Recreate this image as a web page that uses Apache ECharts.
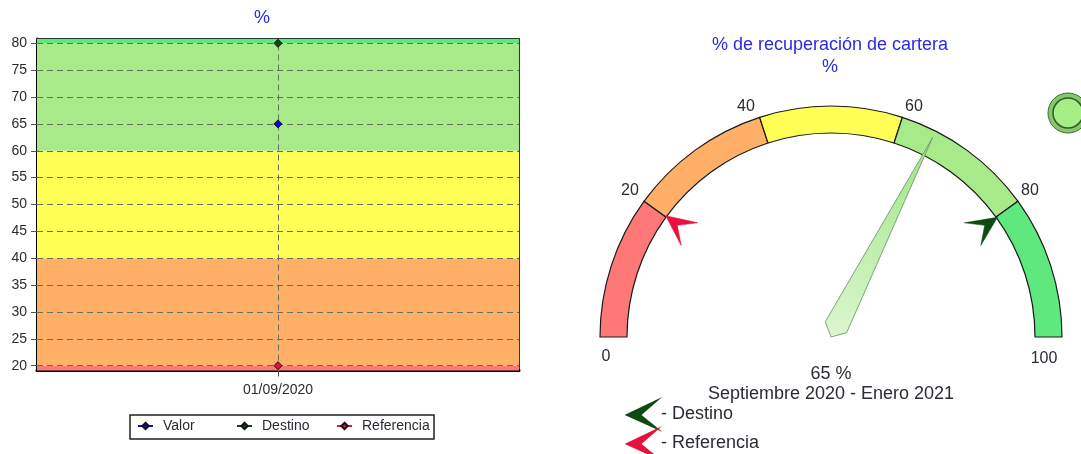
<!DOCTYPE html>
<html>
<head>
<meta charset="utf-8">
<style>html,body{margin:0;padding:0;background:#fff;overflow:hidden}#c{width:1081px;height:454px}</style>
<script src="https://cdn.jsdelivr.net/npm/echarts@6/dist/echarts.min.js"></script>
</head>
<body>
<div id="c"></div>
<script>
// Recovery-rate indicator: history panel on the left, dial on the right.
const FONT = '"Liberation Sans", Arial, sans-serif';
const TEXT = '#2b2b33';
const BLUE = '#2a2ae6';

const dates = ['01/09/2020'];
const valor = [65];
const destino = [80];
const referencia = [20];
const legendNames = ['Valor', 'Destino', 'Referencia'];

const bandEdges = [0, 20, 40, 60, 80, 100];
const bandColors = ['#ff7878', '#ffb066', '#ffff55', '#a8ea8a', '#5ee87e'];
const dialTicks = [0, 20, 40, 60, 80, 100];
const yTicks = [20, 25, 30, 35, 40, 45, 50, 55, 60, 65, 70, 75, 80];

const axisMin = 19.1;
const axisMax = 80.8;

const ARROW = 'path://M15 0 L0 30 L14 15 L28 30 Z';
const LEGEND_ARROW = 'path://M0 14 L29 0 L13 14 L29 27 Z';
const NEEDLE = 'path://M12 0 L24 213 L12 224 L0 213 Z';

// Dial labels are placed by hand around the arc, relative to the dial centre.
const dialLabelOffsets = [[-225, 20], [-201, -146], [-85, -230], [83, -230], [199, -146], [213, 22]];
// Fixed-width legend columns of the history panel.
const legendColumns = [137, 236, 336];

// Background bands of the history panel come from the same edges as the dial.
const bandAreas = bandColors.map((color, i) => [
  { yAxis: Math.max(bandEdges[i], axisMin), itemStyle: { color, opacity: 1 } },
  { yAxis: Math.min(bandEdges[i + 1], axisMax) }
]);

const pointSeries = (name, data, color, extra) => Object.assign({
  name, type: 'line', data, symbol: 'diamond', symbolSize: 8,
  showSymbol: true, z: 5,
  lineStyle: { color, width: 1 },
  itemStyle: { color, borderColor: '#111', borderWidth: 1 }
}, extra);

const CENTER = [831, 337];
const R_OUT = 231;
const R_IN = 204;

const dialBase = {
  type: 'gauge', center: CENTER, radius: R_OUT, startAngle: 180, endAngle: 0,
  min: bandEdges[0], max: bandEdges[bandEdges.length - 1], splitNumber: 5, silent: true,
  axisLine: { show: false }, splitLine: { show: false }, axisTick: { show: false },
  axisLabel: { show: false }, anchor: { show: false },
  title: { show: false }, detail: { show: false }, animation: false, z: 4
};

const targetMarker = (name, data, color) => Object.assign({}, dialBase, {
  name, data: data.map(value => ({ value })),
  pointer: { icon: ARROW, width: 28, length: 30, offsetCenter: [0, -175], keepAspect: false },
  itemStyle: { color, borderColor: color, borderWidth: 0.5 }
});

const chart = echarts.init(document.getElementById('c'), null, { renderer: 'canvas' });
chart.setOption({
  animation: false,
  backgroundColor: '#fff',
  textStyle: { fontFamily: FONT },
  title: [
    { text: '%', left: 262, top: 9, textAlign: 'center', padding: 0,
      textStyle: { color: BLUE, fontSize: 18, fontWeight: 'normal', fontFamily: FONT } },
    { text: '% de recuperación de cartera\n%', left: 830, top: 34, textAlign: 'center', padding: 0,
      textStyle: { color: BLUE, fontSize: 18, lineHeight: 22, fontWeight: 'normal', fontFamily: FONT } }
  ],
  grid: { left: 37, right: 562, top: 39, bottom: 83.5, show: false },
  xAxis: [
    {
      type: 'category', data: dates,
      axisLine: { show: true, lineStyle: { color: '#000', width: 3 } },
      axisTick: { show: true, alignWithLabel: true, length: 6, lineStyle: { color: '#555' } },
      axisLabel: { color: TEXT, fontSize: 14, margin: 13, fontFamily: FONT }
    },
    // Closes the plot frame along the top edge.
    { type: 'category', data: dates, position: 'top',
      axisLine: { show: true, lineStyle: { color: '#2c3c34', width: 2 } },
      axisTick: { show: false }, axisLabel: { show: false } }
  ],
  yAxis: [
    {
      type: 'value', min: axisMin, max: axisMax,
      axisLine: { show: true, onZero: false, lineStyle: { color: '#000', width: 3 } },
      axisTick: { show: true, length: 6, lineStyle: { color: '#555' }, customValues: yTicks },
      axisLabel: { color: TEXT, fontSize: 14, margin: 10, fontFamily: FONT, customValues: yTicks },
      splitLine: { show: false }
    },
    // Closes the plot frame along the right edge.
    { type: 'value', min: axisMin, max: axisMax, position: 'right',
      axisLine: { show: true, onZero: false, lineStyle: { color: '#2c3c34', width: 2 } },
      axisTick: { show: false }, axisLabel: { show: false }, splitLine: { show: false } }
  ],
  legend: legendNames.map((name, i) => ({
    left: legendColumns[i], top: 419, data: [name], padding: 0,
    itemWidth: 15, itemHeight: 8, selectedMode: false,
    textStyle: { color: TEXT, fontSize: 14, fontFamily: FONT, padding: [0, 0, 0, 5] }
  })).concat([{
    left: 626, top: 400, height: 60, orient: 'vertical',
    data: [
      { name: '- Destino', icon: LEGEND_ARROW },
      { name: '- Referencia', icon: LEGEND_ARROW }
    ],
    padding: 0, itemGap: 0, itemWidth: 29, itemHeight: 27, selectedMode: false,
    textStyle: { color: TEXT, fontSize: 18, fontFamily: FONT }
  }]),
  series: [
    pointSeries('Valor', valor, '#0a0ae0', {
      // Plot bands and the dashed grid sit underneath the points.
      markArea: { silent: true, z: 1, data: bandAreas },
      markLine: {
        silent: true, symbol: 'none', z: 2, label: { show: false },
        lineStyle: { color: '#66705a', type: [6, 4], width: 1 },
        data: [{ xAxis: dates[0] }].concat(yTicks.map(v => ({ yAxis: v })))
      }
    }),
    pointSeries('Destino', destino, '#0f4a12'),
    pointSeries('Referencia', referencia, '#e8103c'),

    // Dial arc, one slice per band plus an invisible lower half.
    {
      type: 'pie', center: CENTER, radius: [R_IN, R_OUT], startAngle: 180, silent: true,
      label: { show: false }, labelLine: { show: false }, z: 2, animation: false,
      data: bandColors.map((color, i) => ({
        value: bandEdges[i + 1] - bandEdges[i],
        itemStyle: { color, borderColor: '#1a1a1a', borderWidth: 1.2 }
      })).concat([{
        value: bandEdges[bandEdges.length - 1] - bandEdges[0],
        itemStyle: { color: 'transparent', borderWidth: 0 }
      }])
    },

    targetMarker('- Destino', destino, '#0f4a12'),
    targetMarker('- Referencia', referencia, '#e8103c'),

    // Needle with the current value and the period caption.
    Object.assign({}, dialBase, {
      z: 5,
      data: [{ value: valor[0], name: 'Septiembre 2020 - Enero 2021' }],
      pointer: { icon: NEEDLE, width: 24, length: 224, offsetCenter: [0, 0], keepAspect: false },
      itemStyle: {
        color: { type: 'linear', x: 0, y: 0, x2: 0, y2: 1,
          colorStops: [{ offset: 0, color: '#a0e488' }, { offset: 1, color: '#dcf6d0' }] },
        borderColor: '#6f9a68', borderWidth: 0.8
      },
      title: { show: true, offsetCenter: [0, 57], color: TEXT, fontSize: 18, fontFamily: FONT },
      detail: { show: true, offsetCenter: [0, 37], color: TEXT, fontSize: 18, fontFamily: FONT,
        fontWeight: 'normal', formatter: '{value} %' }
    }),

    // Scale labels of the dial.
    Object.assign({}, dialBase, {
      pointer: { show: false },
      title: { show: true, color: TEXT, fontSize: 16, fontFamily: FONT },
      data: dialTicks.map((value, i) => ({
        value, name: String(value), title: { offsetCenter: dialLabelOffsets[i] }
      }))
    })
  ],
  graphic: [
    // Frame around the history panel's legend.
    { type: 'rect', shape: { x: 130, y: 415, width: 304, height: 24 },
      style: { fill: 'none', stroke: '#222', lineWidth: 1.5 }, z: 10 },
    // Status lamp at the dial's upper right.
    { type: 'circle', shape: { cx: 1068, cy: 113, r: 20 },
      style: { fill: '#84c868', stroke: '#3f6a3a', lineWidth: 1 }, z: 10 },
    { type: 'circle', shape: { cx: 1068, cy: 113, r: 15 },
      style: { fill: '#a6ee86', stroke: '#33552f', lineWidth: 1.5 }, z: 10 }
  ]
});
</script>
</body>
</html>
